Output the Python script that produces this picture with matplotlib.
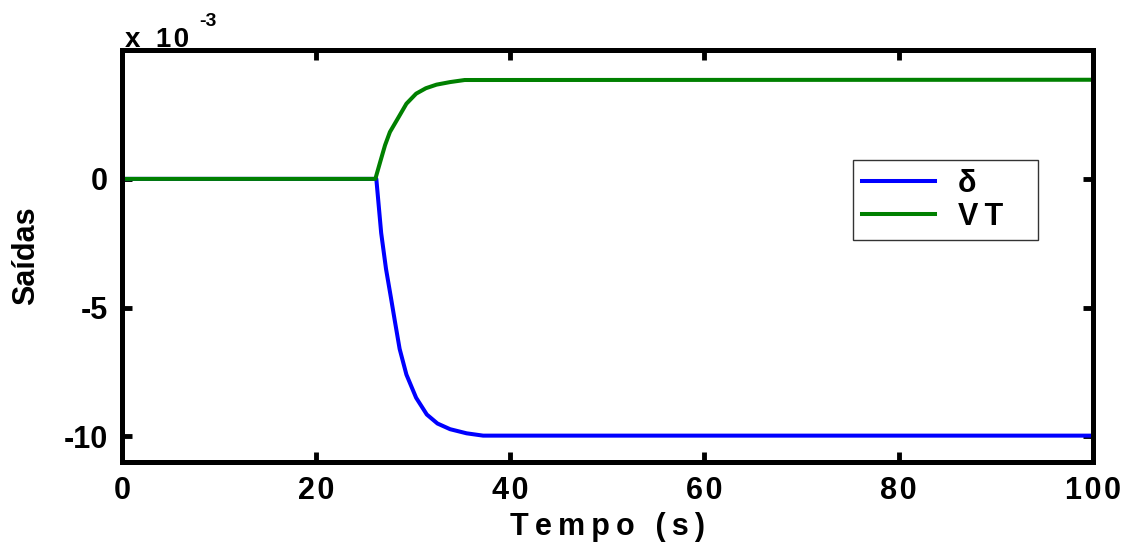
import numpy as np
import matplotlib.pyplot as plt
from matplotlib.ticker import FuncFormatter

# valores (saidas em unidades de 1e-3)
t_delta = [0, 26.2, 26.7, 27.2, 27.7, 28.1, 28.6, 29.3, 30.3, 31.4, 32.5, 33.8, 35.5, 37.2, 100]
delta = [0, 0, -2.1, -3.5, -4.6, -5.5, -6.6, -7.6, -8.5, -9.15, -9.5, -9.72, -9.88, -9.97, -9.97]

t_vt = [0, 26.1, 26.6, 27.1, 27.6, 28.5, 29.3, 30.3, 31.3, 32.4, 33.8, 35.3, 100]
vt = [0, 0, 0.66, 1.31, 1.82, 2.40, 2.92, 3.31, 3.52, 3.66, 3.76, 3.84, 3.85]

xticks = [0, 20, 40, 60, 80, 100]
yticks = [-10, -5, 0]

THIN = '\u2009'  # espacamento largo tipo matlab
HAIR = '\u200a'


def spaced(s, sp=THIN):
    return sp.join(s)


plt.rcParams['font.family'] = ['Liberation Sans', 'DejaVu Sans']
plt.rcParams['font.weight'] = 'bold'
plt.rcParams['axes.unicode_minus'] = False

fig = plt.figure(figsize=(11.29, 5.45), dpi=100)
ax = fig.add_axes([0.108, 0.152, 0.860, 0.756])

ax.plot(t_delta, delta, color='#0000ff', lw=2.9, label='δ')
ax.plot(t_vt, vt, color='#008000', lw=2.9, label='V' + THIN + 'T   ')

ax.set_xlim(0, 100)
ax.set_ylim(-11, 5)
ax.set_xticks(xticks)
ax.set_yticks(yticks)
ax.xaxis.set_major_formatter(FuncFormatter(lambda v, p: spaced('%d' % v, HAIR)))
ax.yaxis.set_major_formatter(FuncFormatter(lambda v, p: '%d' % v))
ax.tick_params(direction='in', length=7, width=3.5, labelsize=22,
               top=True, right=True, pad=10)
for lab in ax.get_xticklabels() + ax.get_yticklabels():
    lab.set_fontweight('bold')
for s in ax.spines.values():
    s.set_linewidth(3.6)

ax.set_xlabel(spaced('Tempo (s)'), fontsize=22, fontweight='bold', labelpad=4)
ax.set_ylabel('Saídas', fontsize=22, fontweight='bold', labelpad=16)

fig.text(125 / 1129, 1 - 47 / 545, 'x  1' + HAIR + '0', fontsize=20,
         fontweight='bold', ha='left', va='baseline')
fig.text(199 / 1129, 1 - 26 / 545, '-3', fontsize=14,
         fontweight='bold', ha='left', va='baseline')

leg = ax.legend(loc='upper right', bbox_to_anchor=(0.943, 0.733),
                fontsize=22, handlelength=2.4, frameon=True, fancybox=False,
                borderpad=0.28, labelspacing=0.1, handletextpad=0.75,
                borderaxespad=0)
leg.get_frame().set_edgecolor('black')
leg.get_frame().set_linewidth(1.0)
for txt in leg.get_texts():
    txt.set_fontweight('bold')

fig.savefig('out.png', dpi=100)
